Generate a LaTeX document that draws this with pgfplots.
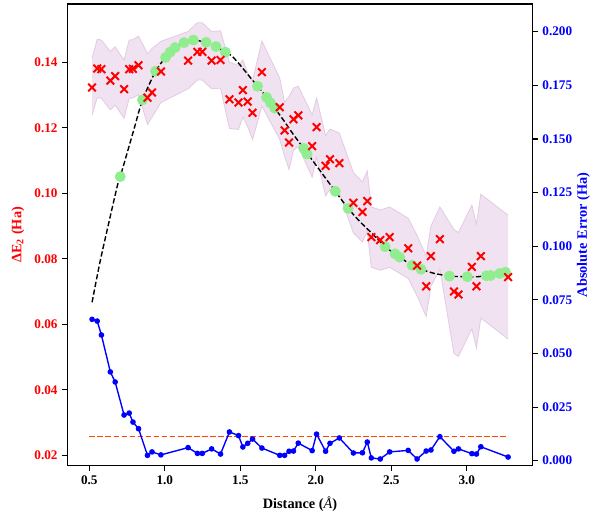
\documentclass[border=0pt]{standalone}
\usepackage{fontspec}
\setmainfont{Liberation Serif}
\usepackage{pgfplots}
\pgfplotsset{compat=1.18}
\usepackage{pgfplotstable}
\usepgfplotslibrary{fillbetween}
\definecolor{lgreen}{RGB}{144,238,144}
\definecolor{bandfill}{RGB}{240,226,240}
\definecolor{bandedge}{RGB}{226,204,228}
\definecolor{orangered}{RGB}{255,69,0}

\pgfplotstableread{
x red hi lo err
0.518 0.1323 0.1412 0.1239 0.0659
0.552 0.1381 0.1470 0.1292 0.0651
0.580 0.1379 0.1468 0.1290 0.0586
0.639 0.1344 0.1433 0.1255 0.0414
0.671 0.1358 0.1447 0.1269 0.0367
0.730 0.1318 0.1407 0.1229 0.0213
0.764 0.1379 0.1468 0.1290 0.0222
0.789 0.1380 0.1469 0.1291 0.0180
0.826 0.1391 0.1480 0.1302 0.0149
0.885 0.1292 0.1426 0.1210 0.0025
0.915 0.1308 0.1442 0.1232 0.0041
0.974 0.1372 0.1464 0.1277 0.0027
1.154 0.1405 0.1494 0.1319 0.0061
1.216 0.1432 0.1521 0.1346 0.0034
1.248 0.1432 0.1521 0.1346 0.0034
1.310 0.1405 0.1494 0.1319 0.0055
1.369 0.1407 0.1496 0.1321 0.0031
1.428 0.1287 0.1400 0.1198 0.0134
1.488 0.1277 0.1390 0.1195 0.0117
1.517 0.1315 0.1407 0.1233 0.0064
1.549 0.1280 0.1366 0.1204 0.0081
1.581 0.1246 0.1344 0.1164 0.0101
1.643 0.1370 0.1465 0.1266 0.0059
1.761 0.1263 0.1352 0.1165 0.0025
1.793 0.1192 0.1278 0.1113 0.0025
1.823 0.1155 0.1295 0.1073 0.0044
1.852 0.1226 0.1321 0.1131 0.0045
1.884 0.1238 0.1327 0.1143 0.0082
1.976 0.1144 0.1239 0.1049 0.0047
2.005 0.1202 0.1291 0.1110 0.0124
2.065 0.1084 0.1176 0.0992 0.0044
2.094 0.1104 0.1196 0.1012 0.0081
2.156 0.1092 0.1184 0.1000 0.0106
2.249 0.0971 0.1063 0.0879 0.0036
2.309 0.0943 0.1035 0.0851 0.0037
2.341 0.0976 0.1068 0.0884 0.0087
2.368 0.0866 0.0958 0.0774 0.0013
2.427 0.0857 0.0949 0.0765 0.0008
2.489 0.0866 0.0958 0.0774 0.0041
2.612 0.0832 0.0924 0.0740 0.0048
2.671 0.0779 0.0871 0.0687 0.0008
2.731 0.0716 0.0808 0.0624 0.0045
2.763 0.0808 0.0900 0.0716 0.0050
2.822 0.0860 0.0958 0.0768 0.0112
2.915 0.0700 0.0889 0.0511 0.0044
2.945 0.0691 0.0880 0.0502 0.0055
3.034 0.0775 0.0964 0.0586 0.0033
3.064 0.0716 0.0905 0.0527 0.0031
3.093 0.0808 0.0997 0.0619 0.0065
3.274 0.0744 0.0933 0.0555 0.0017
}\pred

\pgfplotstableread{
x y
0.705 0.1051
0.852 0.1285
0.939 0.1373
1.005 0.1415
1.035 0.1431
1.068 0.1445
1.127 0.1460
1.189 0.1468
1.273 0.1461
1.339 0.1448
1.401 0.1431
1.614 0.1327
1.674 0.1293
1.700 0.1276
1.728 0.1260
1.920 0.1137
1.942 0.1120
2.129 0.1006
2.214 0.0954
2.459 0.0837
2.525 0.0815
2.555 0.0805
2.638 0.0780
2.697 0.0768
2.885 0.0747
3.004 0.0745
3.130 0.0748
3.158 0.0749
3.218 0.0755
3.256 0.0759
}\train

\pgfplotstableread{
x y
0.518 0.0667
0.576 0.0802
0.684 0.1020
0.705 0.1051
0.794 0.1193
0.852 0.1285
0.939 0.1373
1.005 0.1415
1.068 0.1445
1.127 0.1460
1.189 0.1468
1.273 0.1461
1.339 0.1448
1.401 0.1431
1.443 0.1420
1.498 0.1392
1.553 0.1361
1.614 0.1327
1.674 0.1293
1.728 0.1260
1.785 0.1224
1.851 0.1180
1.920 0.1137
2.030 0.1068
2.129 0.1006
2.214 0.0954
2.293 0.0913
2.371 0.0878
2.459 0.0837
2.555 0.0805
2.638 0.0780
2.697 0.0768
2.779 0.0756
2.885 0.0747
3.004 0.0745
3.066 0.0745
3.130 0.0748
3.218 0.0755
3.274 0.0762
}\exact

\begin{document}
\begin{tikzpicture}
\begin{axis}[
  width=335.1pt, height=332.4pt, scale only axis,
  xmin=0.354, xmax=3.437, ymin=0.0168, ymax=0.1578,
  xtick={0.5,1.0,1.5,2.0,2.5,3.0},
  ytick={0.02,0.04,0.06,0.08,0.10,0.12,0.14},
  tick align=outside, xtick pos=bottom, ytick pos=left,
  major tick length=3.5pt,
  every tick/.style={black, line width=0.8pt},
  axis line style={line width=0.8pt},
  /pgf/number format/assume math mode=true,
  ticklabel style={font=\bfseries\fontsize{9.5}{11}\selectfont},
  xticklabel style={/pgf/number format/fixed, /pgf/number format/fixed zerofill, /pgf/number format/precision=1},
  yticklabel style={red, /pgf/number format/fixed, /pgf/number format/fixed zerofill, /pgf/number format/precision=2},
  scaled y ticks=false, scaled x ticks=false,
  xlabel={\bfseries Distance ({\mdseries\itshape Å})},
  ylabel={\bfseries ΔE\textsubscript{2} (Ha)},
  label style={font=\fontsize{10.3}{12}\selectfont},
  xlabel style={at={(axis description cs:0.5,-0.083)}, anchor=center},
  ylabel style={red, at={(axis description cs:-0.106,0.5)}, anchor=center},
]
\addplot[name path=A, draw=bandedge, line width=0.6pt, forget plot] table[x=x,y=hi]{\pred};
\addplot[name path=B, draw=bandedge, line width=0.6pt, forget plot] table[x=x,y=lo]{\pred};
\addplot[bandfill, draw=none] fill between[of=A and B];
\addplot[only marks, mark=*, mark size=3.7pt, color=lgreen, mark options={draw=lgreen, fill=lgreen}] table[x=x,y=y]{\train};
\addplot[black, line width=1pt, dash pattern=on 3.8pt off 1.8pt, smooth, tension=0.4] table[x=x,y=y]{\exact};
\addplot[only marks, mark=x, mark size=3.9pt, red, mark options={line width=1.4pt}] table[x=x,y=red]{\pred};
\end{axis}
\begin{axis}[
  width=335.1pt, height=332.4pt, scale only axis,
  xmin=0.354, xmax=3.437, ymin=-0.00233, ymax=0.2129,
  axis x line=none, axis y line*=right,
  ytick={0,0.025,0.05,0.075,0.1,0.125,0.15,0.175,0.2},
  tick align=outside, major tick length=3.5pt,
  every tick/.style={black, line width=0.8pt},
  axis line style={line width=0.8pt},
  /pgf/number format/assume math mode=true,
  ticklabel style={font=\bfseries\fontsize{9.5}{11}\selectfont},
  yticklabel style={blue, /pgf/number format/fixed, /pgf/number format/fixed zerofill, /pgf/number format/precision=3},
  scaled y ticks=false,
  ylabel={\bfseries Absolute Error (Ha)},
  label style={font=\fontsize{10.3}{12}\selectfont},
  ylabel style={blue, at={(axis description cs:1.109,0.5)}, anchor=center},
]
\addplot[orangered, line width=1.1pt, dash pattern=on 4pt off 1.8pt] coordinates {(0.50,0.01137) (3.27,0.01137)};
\addplot[blue, line width=1pt, mark=*, mark size=1.5pt, mark options={solid, fill=blue}] table[x=x,y=err]{\pred};
\end{axis}
\useasboundingbox (-48.46pt,-41.98pt) rectangle (384.98pt,335.3pt);
\end{tikzpicture}
\end{document}
